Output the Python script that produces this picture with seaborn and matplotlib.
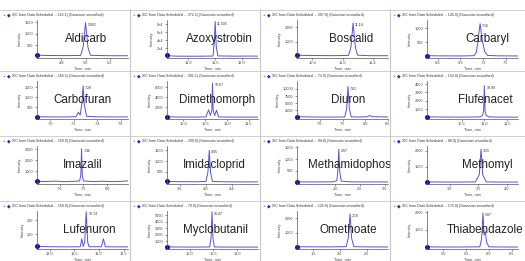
import numpy as np
import matplotlib
matplotlib.use("Agg")
import matplotlib.pyplot as plt
import seaborn as sns
from matplotlib.ticker import AutoMinorLocator

# compounds, in reading order (4 x 4 grid)
names = ["Aldicarb", "Azoxystrobin", "Boscalid", "Carbaryl",
         "Carbofuran", "Dimethomorph", "Diuron", "Flufenacet",
         "Imazalil", "Imidacloprid", "Methamidophos", "Methomyl",
         "Lufenuron", "Myclobutanil", "Omethoate", "Thiabendazole"]

header_mass = ["116.1", "372.1", "307.0", "145.0",
               "165.1", "301.1", "72.0", "152.0",
               "159.0", "209.0", "94.0", "88.0",
               "158.0", "70.0", "125.0", "175.0"]

peak_labels = ["5.001", "11.505", "11.14", "7.16",
               "7.28", "10.67", "7.62", "10.99",
               "7.46", "4.05", "2.07", "3.55",
               "12.74", "10.47", "2.19", "5.87"]

x_ticks = [[4.8, 5.0, 5.2], [11.0, 11.5, 12.0], [10.6, 11.0, 11.4], [6.6, 6.9, 7.2, 7.5],
           [7.0, 7.2, 7.4, 7.6], [10.0, 10.5, 11.0, 11.5], [7.0, 7.5, 8.0, 8.5], [10.5, 11.0, 11.5],
           [7.0, 7.5, 8.0], [3.6, 4.0, 4.4], [2.0, 2.5, 3.0], [3.0, 3.5, 4.0],
           [12.0, 12.5, 13.0, 13.5], [10.0, 10.5, 11.0], [1.5, 2.0, 2.5], [5.0, 5.5, 6.0, 6.5]]

y_ticks = [[500, 1000, 1500], [20000, 40000, 60000, 80000], [1000, 2000], [500, 1000],
           [500, 1000, 1500], [2000, 4000, 6000], [2500, 5000, 7500, 10000], [1000, 2000, 3000, 4000],
           [1000, 2000, 3000], [500, 1000, 1500], [500, 1000, 1500], [1000, 2000],
           [100, 200], [1000, 2000, 3000, 4000, 5000], [1000, 2000], [1000, 2000]]

y_top = [1600, 90000, 2500, 1300,
         1800, 7200, 12800, 4360,
         3300, 1700, 1560, 2300,
         270, 5625, 2500, 2060]

# XIC traces (time, intensity)
t_aldicarb = [4.60, 4.70, 4.85, 4.96, 4.98, 5.00, 5.02, 5.04, 5.15, 5.25, 5.35]
i_aldicarb = [60, 45, 40, 50, 420, 1480, 400, 55, 40, 35, 35]
t_azoxy = [10.60, 10.68, 10.80, 11.20, 11.46, 11.48, 11.50, 11.52, 11.55, 11.90, 12.10, 12.30]
i_azoxy = [3000, 1500, 900, 800, 1200, 30000, 86000, 25000, 1500, 900, 1200, 1000]
t_boscalid = [10.40, 10.60, 10.90, 11.08, 11.11, 11.14, 11.17, 11.20, 11.35, 11.60]
i_boscalid = [90, 70, 60, 80, 600, 2300, 620, 90, 60, 55]
t_carbaryl = [6.46, 6.60, 6.90, 7.08, 7.11, 7.13, 7.16, 7.19, 7.22, 7.26, 7.40, 7.66]
i_carbaryl = [30, 25, 20, 30, 150, 520, 1170, 560, 180, 40, 25, 20]
t_carbofuran = [6.89, 7.00, 7.15, 7.22, 7.24, 7.255, 7.27, 7.28, 7.29, 7.31, 7.40, 7.55, 7.66]
i_carbofuran = [40, 30, 30, 45, 260, 120, 700, 1560, 650, 60, 35, 30, 30]
t_dimeth = [9.63, 9.90, 10.30, 10.52, 10.58, 10.62, 10.655, 10.67, 10.685, 10.72, 10.76, 10.81, 11.10, 11.40, 11.71]
i_dimeth = [150, 100, 90, 120, 1500, 400, 1400, 6800, 1400, 400, 1450, 120, 90, 80, 80]
t_diuron = [6.50, 6.80, 7.20, 7.55, 7.59, 7.62, 7.65, 7.69, 7.90, 8.05, 8.10, 8.15, 8.50]
i_diuron = [300, 200, 150, 200, 3000, 10900, 3200, 250, 180, 300, 700, 300, 200]
t_flufen = [9.74, 10.10, 10.50, 10.90, 10.96, 10.985, 11.00, 11.015, 11.04, 11.10, 11.40, 11.74]
i_flufen = [80, 60, 50, 70, 250, 800, 3800, 800, 250, 70, 50, 50]
t_imazalil = [6.52, 6.70, 6.90, 7.10, 7.30, 7.42, 7.445, 7.46, 7.475, 7.50, 7.70, 7.90, 8.10, 8.30, 8.44]
i_imazalil = [120, 90, 130, 80, 110, 150, 700, 3050, 650, 140, 90, 120, 80, 110, 150]
t_imida = [3.40, 3.60, 3.85, 4.00, 4.03, 4.05, 4.07, 4.10, 4.30, 4.55, 4.80]
i_imida = [50, 40, 35, 50, 500, 1500, 480, 50, 35, 30, 30]
t_metham = [1.22, 1.40, 1.70, 1.95, 2.03, 2.05, 2.07, 2.09, 2.12, 2.30, 2.60, 2.85, 3.07]
i_metham = [30, 25, 25, 30, 80, 500, 1430, 450, 60, 30, 25, 25, 25]
t_methomyl = [2.60, 2.80, 3.10, 3.45, 3.52, 3.55, 3.58, 3.64, 3.80, 4.00, 4.20]
i_methomyl = [40, 35, 30, 40, 500, 2100, 480, 45, 30, 30, 30]
t_lufen = [11.74, 12.00, 12.40, 12.62, 12.65, 12.68, 12.71, 12.74, 12.77, 12.80, 13.05, 13.09, 13.13, 13.35, 13.59]
i_lufen = [8, 6, 5, 6, 65, 8, 40, 265, 40, 6, 6, 65, 6, 5, 5]
t_myclo = [9.52, 9.80, 10.20, 10.42, 10.45, 10.47, 10.49, 10.52, 10.80, 11.10, 11.44]
i_myclo = [100, 80, 70, 90, 1500, 5500, 1400, 90, 70, 70, 70]
t_ometh = [1.20, 1.40, 1.80, 2.12, 2.16, 2.19, 2.22, 2.26, 2.50, 2.70, 2.90]
i_ometh = [60, 50, 45, 60, 700, 2300, 650, 60, 45, 40, 40]
t_thiab = [4.64, 5.00, 5.40, 5.80, 5.84, 5.87, 5.895, 5.92, 5.95, 6.00, 6.30, 6.64]
i_thiab = [40, 30, 30, 40, 500, 1950, 700, 900, 300, 40, 30, 30]

traces = [(t_aldicarb, i_aldicarb), (t_azoxy, i_azoxy), (t_boscalid, i_boscalid), (t_carbaryl, i_carbaryl),
          (t_carbofuran, i_carbofuran), (t_dimeth, i_dimeth), (t_diuron, i_diuron), (t_flufen, i_flufen),
          (t_imazalil, i_imazalil), (t_imida, i_imida), (t_metham, i_metham), (t_methomyl, i_methomyl),
          (t_lufen, i_lufen), (t_myclo, i_myclo), (t_ometh, i_ometh), (t_thiab, i_thiab)]

# where the big compound name sits (axes fraction)
name_x = [0.54, 0.58, 0.60, 0.66, 0.50, 0.55, 0.56, 0.64,
          0.50, 0.52, 0.58, 0.66, 0.58, 0.53, 0.56, 0.64]

sns.set_theme(style="white")
plt.rcParams["font.family"] = ["Liberation Sans", "DejaVu Sans"]

W, H = 525, 261
fig = plt.figure(figsize=(W / 100, H / 100), dpi=100)
fig.patch.set_facecolor("white")

col_left = [0, 130, 260, 390]
row_head = [15, 76, 141, 206]
line_col = "#5454d6"
sep_col = "#c8c8c8"

for k, name in enumerate(names):
    r, c = divmod(k, 4)
    px = col_left[c]
    hy = row_head[r]
    ax = fig.add_axes([(px + 37) / W, 1 - (hy + 43) / H, 91 / W, 38 / H])
    t, inten = traces[k]
    sns.lineplot(x=t, y=inten, ax=ax, color=line_col, linewidth=0.7)
    ax.plot(t[0], inten[0], marker="o", markersize=2.6, color="#14148a", clip_on=False)
    ax.set_xlim(t[0], t[-1])
    ax.set_ylim(-y_top[k] * 0.04, y_top[k])
    ax.set_xticks(x_ticks[k])
    ax.set_xticklabels([f"{v:.1f}" for v in x_ticks[k]])
    ax.set_yticks(y_ticks[k])
    ax.set_yticklabels([f"{v:.0f}" if v < 20000 else f"{v/1e4:.0f}e4" for v in y_ticks[k]])
    ax.xaxis.set_minor_locator(AutoMinorLocator(2))
    ax.tick_params(axis="both", which="major", labelsize=2.8, length=1.5, width=0.4,
                   pad=1, colors="#444444", bottom=True, left=True)
    ax.tick_params(axis="x", which="minor", length=0.9, width=0.3, bottom=True, colors="#444444")
    for s in ["top", "right"]:
        ax.spines[s].set_visible(False)
    for s in ["left", "bottom"]:
        ax.spines[s].set_linewidth(0.5)
        ax.spines[s].set_color("#555555")
    ax.set_xlabel("Time, min", fontsize=2.8, labelpad=1, color="#444444")
    ax.set_ylabel("Intensity", fontsize=2.8, labelpad=2, color="#444444")
    ax.set_facecolor("none")

    # apex label
    j = int(np.argmax(inten))
    ax.annotate(peak_labels[k], (t[j], inten[j]), xytext=(1.5, -1.5), textcoords="offset points",
                fontsize=2.6, color="#333333", va="center", ha="left")

    ax.text(name_x[k], 0.5, name, transform=ax.transAxes, fontsize=8.4,
            ha="center", va="center", color="#222222")

    # header line of the pane
    fig.text((px + 3) / W, 1 - hy / H, "+", fontsize=3.2, color="#333333", va="center")
    fig.text((px + 7) / W, 1 - hy / H, "\u25C6", fontsize=3.4, color="#1a2ad8", va="center",
             family=["DejaVu Sans"])
    fig.text((px + 12) / W, 1 - hy / H,
             f"XIC from Data Scheduled ... {header_mass[k]}) (Gaussian smoothed)",
             fontsize=2.6, color="#333333", va="center")

# pane separators
for x in col_left[1:]:
    fig.add_artist(plt.Line2D([x / W, x / W], [0, 1 - 9 / H], color=sep_col, linewidth=0.8))
for hy in row_head:
    fig.add_artist(plt.Line2D([0, 1], [1 - (hy - 5) / H] * 2, color=sep_col, linewidth=0.6))

fig.savefig("out.png", dpi=100)
